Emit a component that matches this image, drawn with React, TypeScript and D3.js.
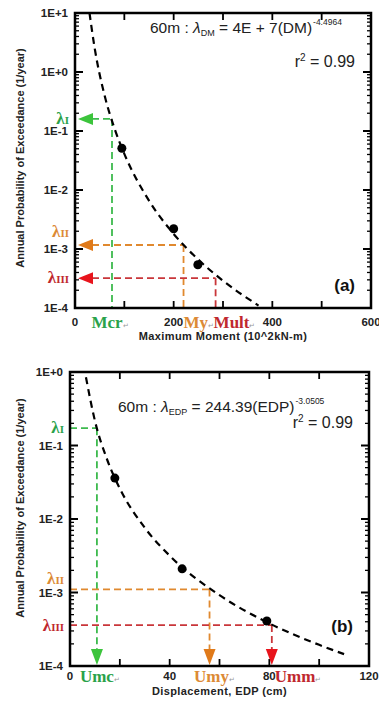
import React from "react";
import * as d3 from "d3";

// fitted curves
const momentCurveX = [29.4, 40, 60, 80, 100, 150, 200, 250, 300, 372];
const momentCurveY = [10, 2.5, 0.4, 0.111, 0.041, 0.0066, 0.0018, 0.00066, 0.00029, 0.00011];
// analysis points
const momentPointX = [95, 200, 249];
const momentPointY = [0.051, 0.0022, 0.00054];
// limit states
const momentLimitX = [75, 220, 285];
const momentLimitY = [0.16, 0.00117, 0.00032];
const momentLimitNames = ["Mcr", "My", "Mult"];

const dispCurveX = [6.4, 10, 15, 20, 30, 40, 60, 80, 100, 110];
const dispCurveY = [0.85, 0.217, 0.063, 0.026, 0.0076, 0.00317, 0.00092, 0.00038, 0.000194, 0.000145];
const dispPointX = [18, 45, 79];
const dispPointY = [0.036, 0.0021, 0.00041];
const dispLimitX = [10.8, 56, 81];
const dispLimitY = [0.172, 0.0011, 0.00036];
const dispLimitNames = ["Umc", "Umy", "Umm"];

const levelNames = ["I", "II", "III"];
const lineColors = ["#3dba4e", "#e0892f", "#c9363a"];
const arrowColors = ["#3cc43c", "#e07a1a", "#e8141c"];
const labelColors = ["#2aa24a", "#dc8a35", "#c0282e"];

const SANS = "Liberation Sans, Arial, sans-serif";
const SERIF = "Liberation Serif, Times New Roman, serif";

const fmtExp = (e) => (e >= 0 ? `1E+${e}` : `1E${e}`);

function Panel(props) {
  const {
    left, right, top, bottom, xMax, xStep, xLabelStep, eMin, eMax,
    curveX, curveY, pointX, pointY, limitX, limitY, limitNames,
    mode, limitAnchor, limitDx, lamDy, eqX, eqY, eqSub, eqBody, eqSup,
    rY, tag, tagY, xTitle, xTitleY, tickLabelY, limitLabelY, yTitleY, labelRight,
  } = props;

  const x = d3.scaleLinear().domain([0, xMax]).range([left, right]);
  const y = d3.scaleLog().domain([Math.pow(10, eMin), Math.pow(10, eMax)]).range([bottom, top]);

  const xTicks = d3.range(0, xMax + 0.001, xStep);
  const majors = d3.range(eMin, eMax + 1);
  const minors = [];
  for (let e = eMin; e < eMax; e++) for (let k = 2; k <= 9; k++) minors.push(k * Math.pow(10, e));

  const curve = d3
    .line()
    .x((d) => x(d[0]))
    .y((d) => y(d[1]))
    .curve(d3.curveMonotoneX)(curveX.map((v, i) => [v, curveY[i]]));

  return (
    <g>
      {/* y ticks */}
      {minors.map((v, i) => (
        <g key={"mn" + i} stroke="#000" strokeWidth={1.3}>
          <line x1={left} x2={left + 4} y1={y(v)} y2={y(v)} />
          <line x1={right} x2={right - 4} y1={y(v)} y2={y(v)} />
        </g>
      ))}
      {majors.map((e) => (
        <g key={"mj" + e}>
          <line x1={left} x2={left + 8} y1={y(Math.pow(10, e))} y2={y(Math.pow(10, e))} stroke="#000" strokeWidth={2} />
          <line x1={right} x2={right - 8} y1={y(Math.pow(10, e))} y2={y(Math.pow(10, e))} stroke="#000" strokeWidth={2} />
          <text x={labelRight} y={y(Math.pow(10, e)) + 4} textAnchor="end" fontFamily={SANS} fontWeight="bold" fontSize={11.5} fill="#222">
            {fmtExp(e)}
          </text>
        </g>
      ))}
      {/* x ticks */}
      {xTicks.map((v) => (
        <g key={"xt" + v}>
          <line x1={x(v)} x2={x(v)} y1={bottom} y2={bottom - 7} stroke="#000" strokeWidth={1.8} />
          <line x1={x(v)} x2={x(v)} y1={top} y2={top + 7} stroke="#000" strokeWidth={1.8} />
          {v % xLabelStep === 0 && (
            <text x={x(v)} y={tickLabelY} textAnchor="middle" fontFamily={SANS} fontWeight="bold" fontSize={11.5} fill="#222">
              {v}
            </text>
          )}
        </g>
      ))}

      {/* limit-state guides */}
      {limitX.map((lx, i) => {
        const px = x(lx);
        const py = y(limitY[i]);
        if (mode === "left") {
          return (
            <g key={"lim" + i}>
              <line x1={left + 17} x2={px} y1={py} y2={py} stroke={lineColors[i]} strokeWidth={1.8} strokeDasharray="7,4" />
              <line x1={px} x2={px} y1={py} y2={bottom} stroke={lineColors[i]} strokeWidth={1.8} strokeDasharray="7,4" />
              <path d={`M${left + 3},${py} L${left + 18},${py - 6} L${left + 18},${py + 6} Z`} fill={arrowColors[i]} />
            </g>
          );
        }
        return (
          <g key={"lim" + i}>
            <line x1={left} x2={px} y1={py} y2={py} stroke={lineColors[i]} strokeWidth={1.8} strokeDasharray="7,4" />
            <line x1={px} x2={px} y1={py} y2={bottom - 15} stroke={lineColors[i]} strokeWidth={1.8} strokeDasharray="7,4" />
            <path d={`M${px},${bottom - 1} L${px - 6},${bottom - 17} L${px + 6},${bottom - 17} Z`} fill={arrowColors[i]} />
          </g>
        );
      })}

      {/* fit */}
      <path d={curve} fill="none" stroke="#000" strokeWidth={2.2} strokeDasharray="7,5" />
      {pointX.map((v, i) => (
        <circle key={"p" + i} cx={x(v)} cy={y(pointY[i])} r={4.5} fill="#000" />
      ))}

      {/* frame */}
      <rect x={left} y={top} width={right - left} height={bottom - top} fill="none" stroke="#000" strokeWidth={2.5} />

      {/* lambda labels */}
      {limitY.map((v, i) => (
        <text key={"lam" + i} x={left - 6} y={y(v) + lamDy[i]} textAnchor="end" fontFamily={SERIF} fontWeight="bold" fill={labelColors[i]}>
          <tspan fontSize={17}>λ</tspan>
          <tspan fontSize={11}>{levelNames[i]}</tspan>
        </text>
      ))}
      {/* limit labels under axis */}
      {limitX.map((v, i) => (
        <text key={"ln" + i} x={x(v) + limitDx[i]} y={limitLabelY} textAnchor={limitAnchor[i]} fontFamily={SERIF} fontWeight="bold" fontSize={17} fill={labelColors[i]}>
          {limitNames[i]}
          <tspan fontSize={7} fill="#999" fontWeight="normal">↵</tspan>
        </text>
      ))}

      {/* equation */}
      <text x={eqX} y={eqY} fontFamily={SANS} fontSize={15.5} fill="#222">
        60m : <tspan fontStyle="italic">λ</tspan>
        <tspan fontSize={9} dy={3}>{eqSub}</tspan>
        <tspan dy={-3}>{eqBody}</tspan>
        <tspan fontSize={8.5} dx={1} dy={-8}>{eqSup}</tspan>
      </text>
      <text x={right - 16} y={rY} textAnchor="end" fontFamily={SANS} fontSize={16} fill="#222">
        r<tspan fontSize={10} dy={-6}>2</tspan>
        <tspan dy={6}> = 0.99</tspan>
      </text>
      <text x={right - 16} y={tagY} textAnchor="end" fontFamily={SANS} fontWeight="bold" fontSize={17} fill="#111">
        {tag}
      </text>

      {/* axis titles */}
      <text x={(left + right) / 2} y={xTitleY} textAnchor="middle" fontFamily={SANS} fontWeight="bold" fontSize={11} letterSpacing={0.4} fill="#222">
        {xTitle}
      </text>
      <text transform={`translate(24,${yTitleY}) rotate(-90)`} textAnchor="middle" fontFamily={SANS} fontWeight="bold" fontSize={11} fill="#222">
        Annual Probability of Exceedance (1/year)
      </text>
    </g>
  );
}

export default function App() {
  return (
    <svg width={379} height={702} style={{ position: "absolute", left: 0, top: 0, background: "#fff" }}>
      <Panel
        left={75} right={371} top={13} bottom={308}
        xMax={600} xStep={100} xLabelStep={200} eMin={-4} eMax={1}
        curveX={momentCurveX} curveY={momentCurveY}
        pointX={momentPointX} pointY={momentPointY}
        limitX={momentLimitX} limitY={momentLimitY} limitNames={momentLimitNames}
        mode="left" limitAnchor={["middle", "start", "start"]} limitDx={[-2, 0, -2]} lamDy={[5, -8, 5]}
        eqX={150} eqY={33} eqSub="DM" eqBody=" = 4E + 7(DM)" eqSup="-4.4964"
        rY={67} tag="(a)" tagY={291}
        xTitle="Maximum Moment (10^2kN-m)" xTitleY={340} tickLabelY={326} limitLabelY={328}
        yTitleY={158} labelRight={68}
      />
      <Panel
        left={70} right={369} top={372} bottom={666}
        xMax={120} xStep={20} xLabelStep={40} eMin={-4} eMax={0}
        curveX={dispCurveX} curveY={dispCurveY}
        pointX={dispPointX} pointY={dispPointY}
        limitX={dispLimitX} limitY={dispLimitY} limitNames={dispLimitNames}
        mode="down" limitAnchor={["middle", "middle", "start"]} limitDx={[3, 5, 3]} lamDy={[5, -5, 6]}
        eqX={118} eqY={412} eqSub="EDP" eqBody=" = 244.39(EDP)" eqSup="-3.0505"
        rY={428} tag="(b)" tagY={632}
        xTitle="Displacement, EDP (cm)" xTitleY={695} tickLabelY={680} limitLabelY={682}
        yTitleY={508} labelRight={63}
      />
    </svg>
  );
}
